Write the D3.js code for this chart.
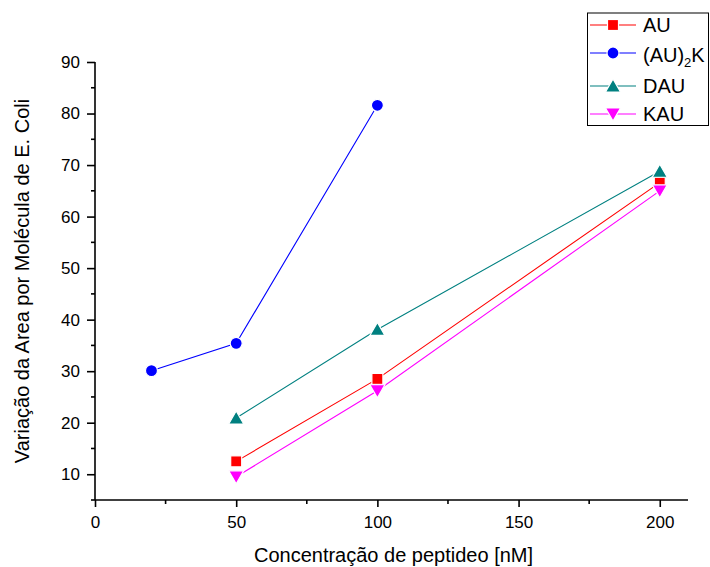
<!DOCTYPE html>
<html><head><meta charset="utf-8">
<script src="https://cdn.jsdelivr.net/npm/d3@7"></script>
<style>
body{margin:0;background:#fff;}
text{font-family:Arial,"Liberation Sans",sans-serif;}
</style></head>
<body><svg id="c" width="710" height="567"></svg>
<script>
// Peptide concentrations (nM) and area change per E. coli molecule
const xAU = [50, 100, 200];
const yAU = [12.5, 28.5, 66.6];
const xAU2K = [20, 50, 100];
const yAU2K = [30.1, 35.4, 81.6];
const xDAU = [50, 100, 200];
const yDAU = [20.9, 38.1, 68.8];
const xKAU = [50, 100, 200];
const yKAU = [9.5, 26.2, 65.0];
const xTicks = [0, 50, 100, 150, 200];
const yTicks = [10, 20, 30, 40, 50, 60, 70, 80, 90];

const series = [
  {name: "AU", xs: xAU, ys: yAU, color: "#ff0000", sym: "square"},
  {name: "(AU)2K", xs: xAU2K, ys: yAU2K, color: "#0000ff", sym: "circle"},
  {name: "DAU", xs: xDAU, ys: yDAU, color: "#008080", sym: "up"},
  {name: "KAU", xs: xKAU, ys: yKAU, color: "#ff00ff", sym: "down"}
];

const svg = d3.select("#c");
const L = 95, R = 688, T = 62, B = 500;
const x = d3.scaleLinear().domain([0, 210]).range([L, R]);
const y = d3.scaleLinear().domain([5, 90]).range([B, T]);

function marker(g, sym, color) {
  if (sym === "square") g.append("rect").attr("x", -5.5).attr("y", -5.5).attr("width", 11).attr("height", 11);
  else if (sym === "circle") g.append("circle").attr("r", 6);
  else if (sym === "up") g.append("path").attr("d", "M0,-7L7.5,6L-7.5,6Z");
  else g.append("path").attr("d", "M0,7L7.5,-6L-7.5,-6Z");
  g.selectAll("*").attr("fill", color).attr("stroke", "#fff").attr("stroke-width", 1.2);
}

// axes
const xAxis = d3.axisBottom(x).tickValues(xTicks).tickSize(7).tickPadding(9).tickFormat(d3.format("d"));
const yAxis = d3.axisLeft(y).tickValues(yTicks).tickSize(8).tickPadding(7).tickFormat(d3.format("d"));
const gx = svg.append("g").attr("transform", `translate(0,${B})`).call(xAxis);
const gy = svg.append("g").attr("transform", `translate(${L},0)`).call(yAxis);
[gx, gy].forEach(g => {
  g.select(".domain").attr("stroke", "#000").attr("stroke-width", 1.6);
  g.selectAll(".tick line").attr("stroke", "#000").attr("stroke-width", 1.6);
  g.selectAll("text").attr("font-size", 17).attr("fill", "#000").attr("font-family", "Arial, 'Liberation Sans', sans-serif");
});
gx.select(".domain").attr("d", `M${L},0H${R}`);
gy.select(".domain").attr("d", `M0,${B}V${T}`);
// minor ticks
const xMinor = [25, 75, 125, 175];
const yMinor = [5, 15, 25, 35, 45, 55, 65, 75, 85];
svg.append("g").selectAll("line").data(xMinor).join("line")
  .attr("x1", d => x(d)).attr("x2", d => x(d)).attr("y1", B).attr("y2", B + 4)
  .attr("stroke", "#000").attr("stroke-width", 1.6);
svg.append("g").selectAll("line").data(yMinor).join("line")
  .attr("y1", d => y(d)).attr("y2", d => y(d)).attr("x1", L).attr("x2", L - 4)
  .attr("stroke", "#000").attr("stroke-width", 1.6);

// titles
svg.append("text").attr("x", (L + R) / 2 + 2).attr("y", 562).attr("text-anchor", "middle")
  .attr("font-size", 20).text("Concentração de peptideo [nM]");
svg.append("text").attr("transform", `translate(29,${(T + B) / 2}) rotate(-90)`).attr("text-anchor", "middle")
  .attr("font-size", 20).text("Variação da Area por Molécula de E. Coli");

// series
const line = d3.line().x(d => x(d[0])).y(d => y(d[1]));
series.forEach(s => {
  const pts = s.xs.map((v, i) => [v, s.ys[i]]);
  svg.append("path").datum(pts).attr("d", line).attr("fill", "none")
    .attr("stroke", s.color).attr("stroke-width", 1.1);
  pts.forEach(p => {
    const g = svg.append("g").attr("transform", `translate(${x(p[0])},${y(p[1])})`);
    marker(g, s.sym, s.color);
  });
});

// legend
const lg = svg.append("g");
lg.append("rect").attr("x", 587.5).attr("y", 13).attr("width", 121).attr("height", 112.5)
  .attr("fill", "#fff").attr("stroke", "#000").attr("stroke-width", 1);
const rowsY = [25, 53, 86, 114];
series.forEach((s, i) => {
  const cy = rowsY[i];
  lg.append("line").attr("x1", 590).attr("x2", 636).attr("y1", cy).attr("y2", cy)
    .attr("stroke", s.color).attr("stroke-width", 1.1);
  const g = lg.append("g").attr("transform", `translate(613,${cy})`);
  marker(g, s.sym, s.color);
  const t = lg.append("text").attr("x", 643).attr("y", cy + 7).attr("font-size", 20);
  if (s.name === "(AU)2K") {
    t.attr("y", cy + 9);
    t.append("tspan").text("(AU)");
    t.append("tspan").attr("font-size", 13).attr("dy", 5).text("2");
    t.append("tspan").attr("dy", -5).text("K");
  } else t.text(s.name);
});
</script></body></html>
